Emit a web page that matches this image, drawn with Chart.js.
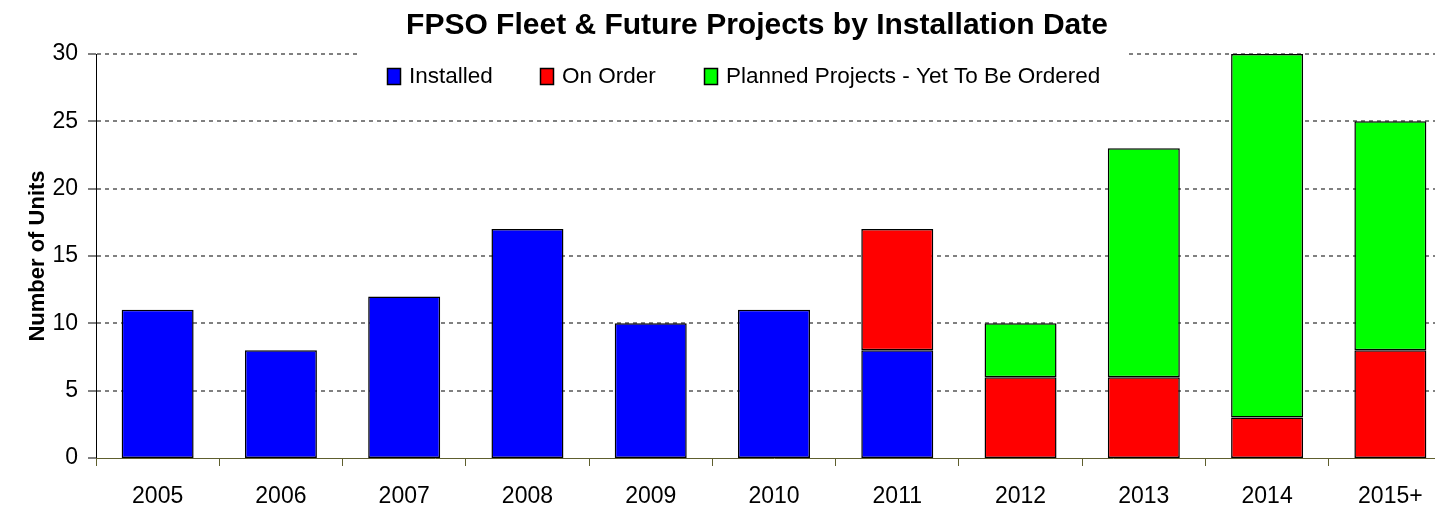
<!DOCTYPE html>
<html><head><meta charset="utf-8">
<script src="https://cdn.jsdelivr.net/npm/chart.js@4"></script>
<style>html,body{margin:0;padding:0;overflow:hidden;background:#fff}#wrap{width:1514px;height:506px}</style>
</head><body><div id="wrap"><canvas id="c" width="1514" height="506"></canvas></div>
<script>
const categories = ['2005','2006','2007','2008','2009','2010','2011','2012','2013','2014','2015+'];
const installed = [11, 8, 12, 17, 10, 11, 8, 0, 0, 0, 0];
const onOrder   = [0, 0, 0, 0, 0, 0, 9, 6, 6, 3, 8];
const planned   = [0, 0, 0, 0, 0, 0, 0, 4, 17, 27, 17];
const yTicks = [0, 5, 10, 15, 20, 25, 30];
const seriesNames = ['Installed', 'On Order', 'Planned Projects - Yet To Be Ordered'];
const seriesColors = ['#0000FF', '#FF0000', '#00FF00'];

const FONT = "'Liberation Sans', Arial, sans-serif";
const OLIVE = '#5e5e2e';

const insideLegend = {
  id: 'insideLegend',
  beforeDatasetsDraw(chart) {
    const ctx = chart.ctx;
    ctx.save();
    ctx.fillStyle = '#ffffff';
    ctx.fillRect(358, 44, 770, 58);
    const xs = [387, 540, 704];
    ctx.font = '22.5px ' + FONT;
    ctx.textBaseline = 'middle';
    ctx.textAlign = 'left';
    chart.data.datasets.forEach((ds, i) => {
      ctx.fillStyle = ds.backgroundColor;
      ctx.fillRect(xs[i] + 0.5, 68.5, 13, 16);
      ctx.strokeStyle = '#000';
      ctx.lineWidth = 1.5;
      ctx.strokeRect(xs[i] + 0.5, 68.5, 13, 16);
      ctx.fillStyle = '#000';
      ctx.fillText(ds.label, xs[i] + 22, 77);
    });
    ctx.restore();
  }
};

const seriesData = [installed, onOrder, planned];
const datasets = seriesNames.map((name, i) => ({
  label: name,
  data: seriesData[i],
  backgroundColor: seriesColors[i],
  borderColor: '#000000',
  borderWidth: 1.5,
  borderSkipped: false,
  barPercentage: 0.584,
  categoryPercentage: 1.0,
  yAxisID: 'y'
}));

new Chart(document.getElementById('c'), {
  type: 'bar',
  data: { labels: categories, datasets },
  plugins: [insideLegend],
  options: {
    responsive: false,
    animation: false,
    layout: { padding: 0 },
    plugins: {
      legend: { display: false },
      tooltip: { enabled: false },
      title: {
        display: true,
        text: 'FPSO Fleet & Future Projects by Installation Date',
        color: '#000',
        font: { family: FONT, size: 30, weight: 'bold' },
        padding: { top: 8, bottom: 10 }
      }
    },
    scales: {
      x: {
        stacked: true,
        offset: true,
        grid: { display: true, offset: true, drawOnChartArea: false, drawTicks: true, tickLength: 8, tickColor: OLIVE, tickWidth: 1 },
        border: { display: true, color: OLIVE, width: 1 },
        ticks: { color: '#000', font: { family: FONT, size: 23 }, padding: 17, maxRotation: 0 },
        afterFit(s) { s.height = 48; }
      },
      y: {
        stacked: true,
        min: 0,
        max: 30,
        afterBuildTicks(s) { s.ticks = yTicks.map(v => ({ value: v })); },
        grid: {
          color: '#808080',
          lineWidth: (c) => (c.tick && c.tick.value === 0 ? 0 : 2),
          drawTicks: true, tickLength: 8, tickColor: '#000', tickWidth: 1
        },
        border: { display: true, color: '#000', width: 1, dash: [4, 4] },
        ticks: { color: '#000', font: { family: FONT, size: 23 }, padding: 10 },
        title: {
          display: true,
          text: 'Number of Units',
          color: '#000',
          font: { family: FONT, size: 22, weight: 'bold' },
          padding: { top: 25, bottom: 0 }
        },
        afterFit(s) { s.width = 96; }
      },
      yRight: {
        type: 'linear',
        position: 'right',
        display: true,
        grid: { drawOnChartArea: false, drawTicks: false },
        border: { display: false },
        ticks: { display: false },
        afterFit(s) { s.width = 62; }
      }
    }
  }
});
</script>
</body></html>
